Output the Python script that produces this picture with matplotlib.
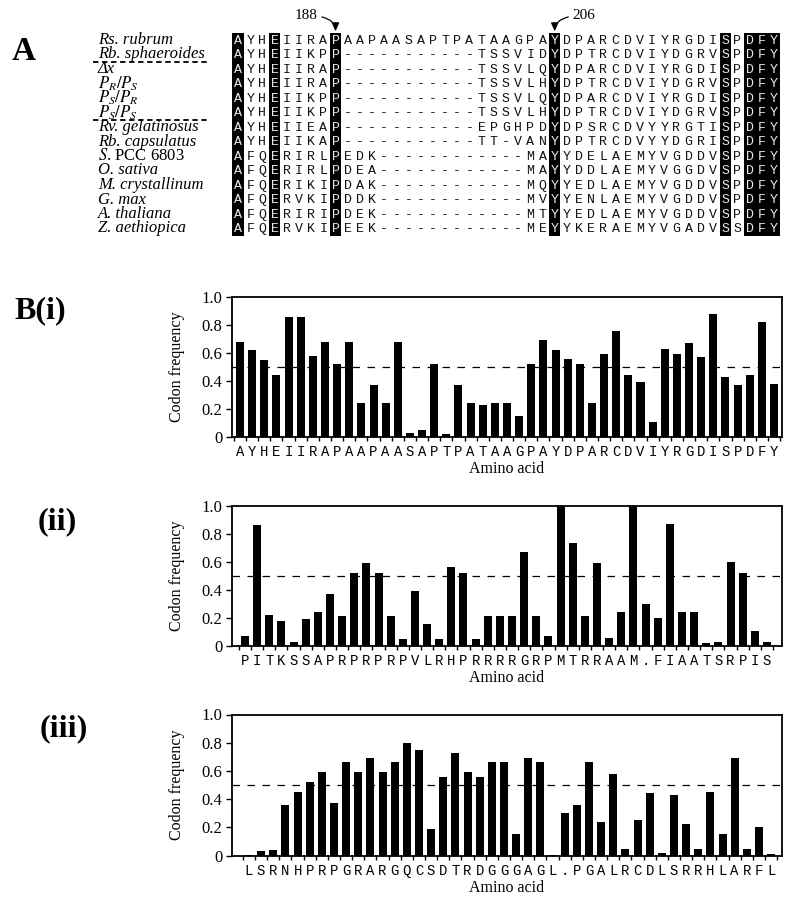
import matplotlib
matplotlib.use("Agg")
import matplotlib.pyplot as plt
import matplotlib.transforms as mtransforms
from matplotlib.patches import Rectangle
import numpy as np

plt.rcParams['mathtext.fontset'] = 'stix'
SERIF = 'Liberation Serif'
MONO = 'Liberation Mono'

# ---------------- Panel A data ----------------
species = ["Rs. rubrum", "Rb. sphaeroides", "Δx", r"$P_R/P_S$", r"$P_S/P_R$",
           r"$P_S/P_S$", "Rv. gelatinosus", "Rb. capsulatus",
           r"$\mathit{S}$. PCC 6803", "O. sativa", "M. crystallinum",
           "G. max", "A. thaliana", "Z. aethiopica"]
species_italic = [True, True, True, True, True, True, True, True,
                  False, True, True, True, True, True]
sequences = [
    "AYHEIIRAPAAPAASAPTPATAAGPAYDPARCDVIYRGDISPDFY",
    "AYHEIIKPP-----------TSSVIDYDPTRCDVIYDGRVSPDFY",
    "AYHEIIRAP-----------TSSVLQYDPARCDVIYRGDISPDFY",
    "AYHEIIRAP-----------TSSVLHYDPTRCDVIYDGRVSPDFY",
    "AYHEIIKPP-----------TSSVLQYDPARCDVIYRGDISPDFY",
    "AYHEIIKPP-----------TSSVLHYDPTRCDVIYDGRVSPDFY",
    "AYHEIIEAP-----------EPGHPDYDPSRCDVYYRGTISPDFY",
    "AYHEIIKAP-----------TT-VANYDPTRCDVYYDGRISPDFY",
    "AFQERIRLPEDK------------MAYYDELAEMYVGDDVSPDFY",
    "AFQERIRLPDEA------------MAYYDDLAEMYVGGDVSPDFY",
    "AFQERIKIPDAK------------MQYYEDLAEMYVGDDVSPDFY",
    "AFQERVKIPDDK------------MVYYENLAEMYVGDDVSPDFY",
    "AFQERIRIPDEK------------MTYYEDLAEMYVGDDVSPDFY",
    "AFQERVKIPEEK------------MEYYKERAEMYVGADVSSDFY",
]
conserved_cols = [0, 3, 8, 26, 40, 42, 43, 44]
separator_after = [2, 6]
marker_cols = [8, 26]
marker_text = ["188", "206"]

# ---------------- Panel B data ----------------
labels_i = "AYHEIIRAPAAPAASAPTPATAAGPAYDPARCDVIYRGDISPDFY"
freq_i = [0.68, 0.62, 0.55, 0.44, 0.86, 0.86, 0.58, 0.68, 0.52, 0.68,
          0.24, 0.37, 0.24, 0.68, 0.03, 0.05, 0.52, 0.02, 0.37, 0.24,
          0.23, 0.24, 0.24, 0.15, 0.52, 0.69, 0.62, 0.56, 0.52, 0.24,
          0.59, 0.76, 0.44, 0.39, 0.11, 0.63, 0.59, 0.67, 0.57, 0.88,
          0.43, 0.37, 0.44, 0.82, 0.38]

labels_ii = "PITKSSAPRPRPRPVLRHPRRRRGRPMTRRAAM.FIAATSRPIS"
freq_ii = [0.07, 0.86, 0.22, 0.18, 0.03, 0.19, 0.24, 0.37, 0.21, 0.52,
           0.59, 0.52, 0.21, 0.05, 0.39, 0.16, 0.05, 0.56, 0.52, 0.05,
           0.21, 0.21, 0.21, 0.67, 0.21, 0.07, 1.0, 0.73, 0.21, 0.59,
           0.06, 0.24, 1.0, 0.30, 0.20, 0.87, 0.24, 0.24, 0.02, 0.03,
           0.60, 0.52, 0.11, 0.03]

labels_iii = "LSRNHPRPGRARGQCSDTRDGGGAGL.PGALRCDLSRRHLARFL"
freq_iii = [0.005, 0.03, 0.04, 0.36, 0.45, 0.52, 0.59, 0.37, 0.66, 0.59,
            0.69, 0.59, 0.66, 0.80, 0.75, 0.19, 0.56, 0.73, 0.59, 0.56,
            0.66, 0.66, 0.15, 0.69, 0.66, 0.005, 0.30, 0.36, 0.66, 0.24,
            0.58, 0.045, 0.25, 0.44, 0.015, 0.43, 0.22, 0.045, 0.45, 0.15,
            0.69, 0.045, 0.20, 0.01]

yticks = [0, 0.2, 0.4, 0.6, 0.8, 1.0]
ytick_labels = ["0", "0.2", "0.4", "0.6", "0.8", "1.0"]

W, H = 800, 907
fig = plt.figure(figsize=(W / 100, H / 100), dpi=100)


def fx(px):
    return px / W


def fy(py):
    return 1 - py / H


# ---------------- Panel A ----------------
nrows = len(sequences)
ncols = len(sequences[0])
row_top, row_pitch = 32.75, 14.5
axA = fig.add_axes([fx(232), fy(row_top + nrows * row_pitch), fx(780) - fx(232),
                    nrows * row_pitch / H])
axA.set_xlim(0, ncols)
axA.set_ylim(nrows, 0)
axA.axis('off')

# conserved bands
groups = []
for c in conserved_cols:
    if groups and groups[-1][1] == c:
        groups[-1][1] = c + 1
    else:
        groups.append([c, c + 1])
for a, b in groups:
    axA.add_patch(Rectangle((a + 0.04, 0), (b - a) - 0.08, nrows,
                            facecolor='black', edgecolor='none'))

for r, seq in enumerate(sequences):
    for c, ch in enumerate(seq):
        col = '#e8e8e8' if c in conserved_cols else '#111111'
        axA.text(c + 0.5, r + 0.55, ch, ha='center', va='center',
                 fontfamily=MONO, fontsize=9.5, color=col)

blend = mtransforms.blended_transform_factory(fig.transFigure, axA.transData)
for r, (name, it) in enumerate(zip(species, species_italic)):
    axA.text(fx(98), r + 0.5, name, transform=blend, ha='left', va='center',
             fontfamily=SERIF, fontsize=12,
             fontstyle='italic' if it else 'normal')
for s in separator_after:
    axA.plot([fx(93), fx(208)], [s, s], transform=blend, color='black',
             lw=1.3, ls=(0, (3, 2)), clip_on=False)

# residue-number markers
for c, t, side, ha in zip(marker_cols, marker_text, [-1, 1], ['right', 'left']):
    tx = c + 0.5 + side * 1.45
    axA.annotate(t, xy=(c + 0.5, -0.1), xytext=(tx, -1.2),
                 fontfamily=SERIF, fontsize=11, ha=ha, va='center',
                 annotation_clip=False,
                 arrowprops=dict(arrowstyle='-|>,head_length=0.45,head_width=0.2',
                                 color='black', lw=0.9, shrinkA=1, shrinkB=0,
                                 connectionstyle='angle3,angleA=0,angleB=90'))

fig.text(fx(24), fy(51), "A", fontfamily=SERIF, fontsize=24,
         fontweight='bold', ha='center', va='center')


# ---------------- Panel B ----------------
def bar_panel(top_px, bottom_px, labels, values, xlim, tag, tag_xy):
    ax = fig.add_axes([fx(232), fy(bottom_px), fx(782) - fx(232),
                       (bottom_px - top_px) / H])
    x = np.arange(len(values))
    ax.bar(x, values, width=0.66, color='black', zorder=3)
    ax.set_xlim(*xlim)
    ax.set_ylim(0, 1.0)
    ax.axhline(0.5, color='black', lw=0.9, ls=(0, (6, 6)), zorder=2)
    ax.set_xticks(x)
    ax.set_xticklabels(list(labels), fontfamily=MONO, fontsize=10)
    ax.set_xticks(np.arange(len(values) + 1) - 0.5, minor=True)
    ax.tick_params(axis='x', which='major', length=0, pad=6)
    ax.tick_params(axis='x', which='minor', length=3, width=1, direction='out')
    ax.set_yticks(yticks)
    ax.set_yticklabels(ytick_labels, fontfamily=SERIF, fontsize=12)
    ax.tick_params(axis='y', length=4, width=1, direction='out', pad=3)
    for sp in ax.spines.values():
        sp.set_linewidth(1.3)
    fig.text(fx(177), fy((top_px + bottom_px) / 2), "Codon frequency",
             rotation=90, ha='center', va='center', fontfamily=SERIF,
             fontsize=11.5)
    fig.text(fx(507), fy(bottom_px + 32), "Amino acid", ha='center',
             va='center', fontfamily=SERIF, fontsize=11.5)
    fig.text(fx(tag_xy[0]), fy(tag_xy[1]), tag, fontfamily=SERIF, fontsize=23,
             fontweight='bold', ha='center', va='center')
    return ax


bar_panel(297, 437, labels_i, freq_i, (-0.66, 44.66), "B(i)", (40, 311))
bar_panel(505.5, 646, labels_ii, freq_ii, (-1.07, 44.24), "(ii)", (57, 522))
bar_panel(714.5, 855.5, labels_iii, freq_iii, (-1.4, 43.9), "(iii)", (64, 729))

fig.savefig("out.png", dpi=100)
